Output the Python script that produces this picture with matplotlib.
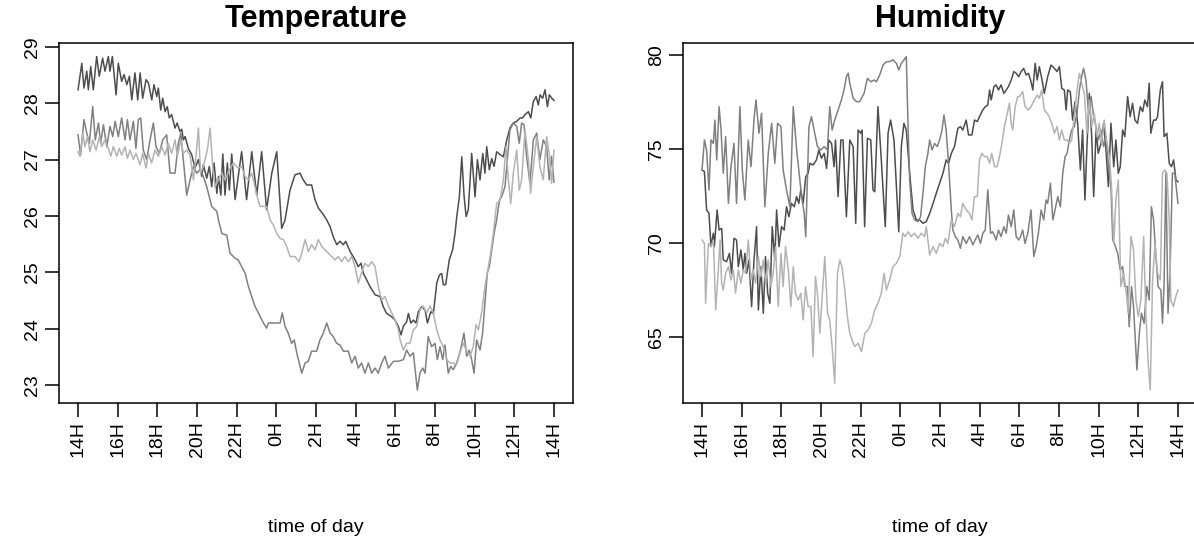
import matplotlib
matplotlib.use("Agg")
import matplotlib.pyplot as plt

# ==========================================================
# DATA (hours after 14H, value)
# ==========================================================
hour_ticks = list(range(0, 25, 2))
hour_labels = ['14H', '16H', '18H', '20H', '22H', '0H', '2H', '4H',
               '6H', '8H', '10H', '12H', '14H']

temp_ticks = [23, 24, 25, 26, 27, 28, 29]
hum_ticks = [65, 70, 75, 80]

temp_dark = [
    (0, 28.24), (0.19, 28.71), (0.30, 28.27), (0.44, 28.57), (0.52, 28.24),
    (0.64, 28.65), (0.77, 28.24), (0.94, 28.83), (1.07, 28.48), (1.24, 28.80),
    (1.36, 28.57), (1.53, 28.83), (1.61, 28.57), (1.73, 28.83), (1.92, 28.15),
    (2.03, 28.71), (2.2, 28.39), (2.32, 28.51), (2.46, 28.33), (2.59, 28.48),
    (2.71, 28.06), (2.87, 28.54), (3.01, 28.06), (3.13, 28.54), (3.26, 28.09),
    (3.43, 28.42), (3.55, 28.36), (3.72, 28.06), (3.83, 28.33), (3.97, 28.12),
    (4.05, 28.27), (4.17, 27.88), (4.27, 28.09), (4.39, 27.85), (4.5, 27.94),
    (4.6, 27.74), (4.72, 27.80), (4.89, 27.56), (5.0, 27.65), (5.14, 27.50),
    (5.23, 27.54), (5.31, 27.35), (5.40, 27.41), (5.56, 27.20), (5.73, 27.09),
    (5.9, 26.85), (6.07, 27.0), (6.24, 26.70), (6.32, 26.91), (6.49, 26.67),
    (6.62, 26.88), (6.74, 26.52), (6.86, 26.94), (7.0, 26.40), (7.08, 26.70),
    (7.2, 26.37), (7.30, 27.1), (7.41, 26.37), (7.53, 26.94), (7.63, 26.46),
    (7.75, 27.1), (7.92, 26.29), (8.25, 27.14), (8.5, 26.29), (8.76, 27.14),
    (9.01, 26.37), (9.26, 27.14), (9.51, 26.11), (9.77, 26.76), (10.02, 27.14),
    (10.27, 25.78), (10.44, 25.93), (10.69, 26.46), (10.94, 26.73), (11.19, 26.76),
    (11.36, 26.64), (11.53, 26.55), (11.78, 26.55), (11.95, 26.29), (12.12, 26.14),
    (12.32, 26.05), (12.54, 25.93), (12.71, 25.81), (12.87, 25.63), (13.05, 25.49),
    (13.21, 25.55), (13.38, 25.49), (13.5, 25.55), (13.72, 25.37), (13.97, 25.22),
    (14.13, 25.10), (14.27, 25.16), (14.39, 24.98), (14.56, 24.86), (14.72, 24.75),
    (14.98, 24.60), (15.23, 24.57), (15.39, 24.39), (15.56, 24.27), (15.82, 24.21),
    (15.99, 24.15), (16.15, 24.04), (16.29, 23.89), (16.4, 24.04), (16.57, 24.12),
    (16.66, 24.27), (16.78, 24.1), (16.91, 24.15), (17.04, 24.10), (17.16, 24.30),
    (17.33, 24.39), (17.5, 24.33), (17.62, 24.10), (17.79, 24.30), (17.92, 24.27),
    (18.09, 24.81), (18.22, 24.95), (18.34, 24.98), (18.42, 24.78), (18.54, 24.78),
    (18.72, 25.22), (18.89, 25.40), (19.01, 25.69), (19.1, 25.99), (19.23, 26.34),
    (19.35, 27.05), (19.47, 26.34), (19.57, 25.99), (19.68, 26.11), (19.85, 27.11),
    (20.02, 26.34), (20.14, 27.0), (20.27, 26.64), (20.41, 27.11), (20.52, 26.76),
    (20.61, 27.23), (20.74, 26.82), (20.86, 27.02), (20.98, 26.88), (21.11, 27.14),
    (21.28, 27.09), (21.45, 27.05), (21.62, 27.35), (21.78, 27.56), (21.95, 27.65),
    (22.12, 27.68), (22.29, 27.74), (22.42, 27.74), (22.54, 27.8), (22.71, 27.85),
    (22.83, 27.74), (22.96, 28.03), (23.1, 28.12), (23.21, 27.97), (23.3, 28.15),
    (23.43, 28.09), (23.55, 28.24), (23.67, 27.94), (23.77, 28.15), (23.89, 28.09),
    (24.0, 28.05),
]

temp_mid = [
    (0, 27.44), (0.13, 27.08), (0.3, 27.71), (0.44, 27.47), (0.57, 27.29),
    (0.74, 27.94), (0.87, 27.35), (1.03, 27.65), (1.14, 27.29), (1.28, 27.62),
    (1.45, 27.23), (1.61, 27.59), (1.75, 27.41), (1.87, 27.68), (2.03, 27.41),
    (2.2, 27.74), (2.37, 27.35), (2.49, 27.71), (2.62, 27.35), (2.79, 27.68),
    (2.92, 27.2), (3.04, 27.71), (3.16, 27.74), (3.29, 27.17), (3.46, 27.0),
    (3.63, 27.35), (3.8, 27.65), (3.93, 27.23), (4.1, 27.11), (4.27, 27.35),
    (4.47, 27.44), (4.64, 26.76), (4.89, 26.76), (5.06, 27.29), (5.18, 27.47),
    (5.31, 27.0), (5.48, 26.37), (5.65, 26.64), (5.82, 26.88), (5.98, 26.76),
    (6.15, 26.82), (6.32, 26.70), (6.49, 26.52), (6.74, 26.17), (7.0, 26.08),
    (7.08, 25.93), (7.25, 25.69), (7.5, 25.66), (7.66, 25.34), (7.92, 25.25),
    (8.08, 25.22), (8.25, 25.1), (8.42, 24.99), (8.59, 24.75), (8.76, 24.57),
    (8.92, 24.4), (9.09, 24.28), (9.18, 24.22), (9.35, 24.1), (9.51, 24.01),
    (9.6, 24.1), (9.93, 24.1), (10.19, 24.1), (10.3, 24.28), (10.44, 24.04),
    (10.6, 23.92), (10.77, 23.74), (10.9, 23.8), (11.03, 23.57), (11.28, 23.21),
    (11.45, 23.39), (11.61, 23.42), (11.78, 23.6), (12.03, 23.6), (12.2, 23.8),
    (12.37, 23.92), (12.54, 24.1), (12.71, 23.92), (12.87, 23.86), (13.04, 23.74),
    (13.21, 23.71), (13.38, 23.6), (13.63, 23.6), (13.8, 23.39), (13.97, 23.51),
    (14.13, 23.3), (14.3, 23.39), (14.47, 23.21), (14.64, 23.39), (14.81, 23.21),
    (14.98, 23.3), (15.14, 23.21), (15.31, 23.39), (15.48, 23.51), (15.65, 23.3),
    (15.9, 23.42), (16.15, 23.42), (16.41, 23.45), (16.57, 23.62), (16.74, 23.51),
    (16.91, 23.57), (17.11, 22.91), (17.24, 23.21), (17.38, 23.3), (17.5, 23.21),
    (17.66, 23.86), (17.83, 23.68), (18.0, 23.74), (18.12, 23.45), (18.25, 23.68),
    (18.39, 23.45), (18.5, 23.71), (18.67, 23.21), (18.79, 23.33), (18.92, 23.27),
    (19.09, 23.39), (19.29, 23.62), (19.46, 23.92), (19.6, 23.51), (19.73, 23.62),
    (19.85, 23.45), (19.97, 23.21), (20.1, 23.8), (20.27, 23.62), (20.4, 23.92),
    (20.52, 24.45), (20.64, 24.99), (20.74, 25.1), (20.86, 25.4), (20.98, 25.69),
    (21.11, 25.93), (21.25, 26.28), (21.36, 26.34), (21.53, 26.52), (21.65, 27.0),
    (21.78, 27.53), (21.95, 27.65), (22.12, 27.59), (22.25, 27.29), (22.37, 27.65),
    (22.49, 27.62), (22.62, 27.06), (22.79, 26.58), (22.96, 27.35), (23.13, 27.47),
    (23.29, 27.0), (23.46, 27.35), (23.63, 27.23), (23.76, 26.64), (23.88, 27.06),
    (24.0, 26.6),
]

temp_light = [
    (0, 27.14), (0.1, 27.06), (0.24, 27.47), (0.35, 27.23), (0.47, 27.41),
    (0.6, 27.14), (0.74, 27.35), (0.91, 27.17), (1.08, 27.41), (1.19, 27.23),
    (1.36, 27.35), (1.53, 27.2), (1.65, 27.06), (1.78, 27.23), (1.95, 27.06),
    (2.08, 27.2), (2.2, 27.08), (2.37, 27.23), (2.49, 27.02), (2.62, 27.17),
    (2.79, 27.0), (2.92, 27.11), (3.13, 26.91), (3.26, 27.11), (3.43, 26.85),
    (3.55, 27.11), (3.71, 26.94), (3.88, 27.17), (4.05, 27.06), (4.22, 27.23),
    (4.39, 27.08), (4.55, 27.29), (4.72, 27.11), (4.89, 27.35), (5.01, 27.06),
    (5.18, 27.35), (5.31, 27.11), (5.48, 27.17), (5.65, 27.08), (5.82, 26.64),
    (5.95, 27.06), (6.07, 27.56), (6.18, 26.76), (6.32, 26.88), (6.52, 27.17),
    (6.66, 27.56), (6.79, 26.88), (6.91, 26.52), (7.08, 26.64), (7.24, 26.76),
    (7.41, 26.64), (7.63, 26.82), (7.83, 26.94), (8.08, 26.85), (8.25, 26.88),
    (8.42, 26.7), (8.59, 26.64), (8.76, 26.76), (8.92, 26.52), (9.01, 26.37),
    (9.18, 26.17), (9.35, 26.17), (9.51, 26.17), (9.68, 25.93), (9.85, 25.84),
    (10.02, 25.69), (10.19, 25.6), (10.35, 25.58), (10.52, 25.46), (10.69, 25.28),
    (10.94, 25.28), (11.14, 25.19), (11.28, 25.34), (11.45, 25.58), (11.61, 25.37),
    (11.78, 25.49), (11.95, 25.4), (12.12, 25.58), (12.29, 25.46), (12.45, 25.4),
    (12.62, 25.34), (12.79, 25.28), (12.96, 25.22), (13.12, 25.28), (13.29, 25.19),
    (13.46, 25.28), (13.63, 25.19), (13.8, 25.28), (13.97, 25.1), (14.13, 24.81),
    (14.3, 24.99), (14.47, 25.16), (14.64, 25.1), (14.81, 25.19), (14.98, 25.1),
    (15.14, 24.75), (15.31, 24.51), (15.48, 24.57), (15.65, 24.4), (15.82, 24.28),
    (15.98, 24.16), (16.15, 23.98), (16.24, 23.8), (16.41, 23.62), (16.57, 23.74),
    (16.74, 23.74), (16.91, 23.98), (17.08, 24.04), (17.24, 24.33), (17.41, 24.4),
    (17.58, 24.28), (17.75, 24.4), (17.92, 24.28), (18.09, 23.98), (18.25, 23.8),
    (18.42, 23.68), (18.59, 23.45), (18.76, 23.39), (18.92, 23.39), (19.09, 23.36),
    (19.26, 23.57), (19.43, 23.74), (19.6, 23.6), (19.77, 23.51), (19.93, 23.68),
    (20.07, 24.07), (20.19, 23.98), (20.35, 24.28), (20.52, 24.75), (20.69, 25.1),
    (20.81, 25.34), (20.94, 25.69), (21.11, 26.22), (21.28, 26.28), (21.45, 26.64),
    (21.58, 27.23), (21.7, 26.64), (21.82, 26.22), (21.95, 26.76), (22.12, 27.17),
    (22.25, 26.46), (22.37, 26.64), (22.54, 27.53), (22.71, 27.0), (22.82, 26.4),
    (22.96, 26.88), (23.13, 27.41), (23.29, 26.88), (23.46, 26.64), (23.63, 27.41),
    (23.76, 27.11), (23.88, 26.58), (24.0, 27.17),
]

hum_dark = [
    (0, 73.89), (0.12, 73.8), (0.23, 71.76), (0.35, 71.58), (0.45, 69.81),
    (0.57, 70.52), (0.62, 69.81), (0.76, 71.76), (0.86, 70.69), (0.99, 70.78),
    (1.07, 69.1), (1.24, 69.01), (1.38, 69.45), (1.49, 68.39), (1.61, 70.25),
    (1.74, 70.16), (1.83, 68.74), (1.96, 69.63), (2.08, 68.57), (2.16, 69.45),
    (2.25, 68.39), (2.37, 69.1), (2.5, 66.62), (2.62, 69.1), (2.75, 70.87),
    (2.84, 66.44), (2.97, 68.74), (3.09, 66.26), (3.2, 69.28), (3.31, 67.33),
    (3.42, 66.79), (3.54, 70.87), (3.67, 69.1), (3.76, 71.76), (3.88, 69.81),
    (4.01, 70.87), (4.14, 70.69), (4.26, 71.93), (4.38, 71.4), (4.51, 72.11),
    (4.65, 71.93), (4.77, 72.47), (4.88, 72.11), (4.98, 72.82), (5.1, 72.11),
    (5.23, 73.53), (5.35, 73.71), (5.44, 74.24), (5.6, 74.15), (5.77, 74.42),
    (5.89, 74.95), (6.02, 74.51), (6.16, 74.77), (6.28, 73.97), (6.39, 75.48),
    (6.53, 75.3), (6.66, 74.06), (6.73, 75.48), (6.86, 72.47), (7.0, 75.48),
    (7.11, 75.48), (7.28, 71.4), (7.45, 75.48), (7.62, 75.13), (7.75, 71.05),
    (7.87, 76.01), (8.0, 75.84), (8.07, 76.01), (8.2, 70.87), (8.34, 75.57),
    (8.51, 75.48), (8.62, 72.82), (8.71, 72.73), (8.87, 77.25), (9.04, 74.42),
    (9.24, 70.87), (9.38, 75.84), (9.51, 76.54), (9.68, 75.48), (9.92, 70.6),
    (10.05, 75.13), (10.18, 76.37), (10.3, 76.01), (10.47, 73.71), (10.64, 71.76),
    (10.81, 71.23), (10.97, 71.23), (11.14, 71.05), (11.31, 71.14), (11.48, 71.58),
    (11.65, 72.11), (11.81, 72.64), (11.98, 73.18), (12.15, 73.71), (12.31, 74.42),
    (12.43, 74.24), (12.57, 74.77), (12.73, 75.13), (12.9, 76.1), (13.03, 76.19),
    (13.15, 76.01), (13.32, 76.54), (13.44, 75.75), (13.61, 75.75), (13.74, 76.54),
    (13.88, 76.46), (13.99, 76.72), (14.16, 77.08), (14.28, 77.25), (14.41, 77.34),
    (14.5, 78.14), (14.58, 77.61), (14.72, 78.32), (14.83, 78.41), (14.95, 78.14),
    (15.08, 78.41), (15.22, 77.96), (15.34, 78.14), (15.45, 78.32), (15.59, 78.67),
    (15.72, 79.12), (15.84, 79.03), (15.97, 78.85), (16.09, 79.12), (16.22, 79.29),
    (16.34, 78.94), (16.46, 79.03), (16.59, 78.58), (16.68, 78.14), (16.8, 79.56),
    (16.9, 78.67), (17.01, 79.38), (17.13, 78.76), (17.26, 77.96), (17.43, 78.85),
    (17.6, 79.47), (17.77, 79.29), (17.9, 79.12), (18.02, 79.38), (18.14, 78.23),
    (18.27, 78.14), (18.36, 77.08), (18.44, 78.14), (18.57, 78.05), (18.69, 76.54),
    (18.81, 77.52), (18.94, 76.37), (19.08, 73.89), (19.19, 76.01), (19.31, 72.29),
    (19.41, 75.13), (19.53, 77.96), (19.65, 75.66), (19.75, 72.47), (19.87, 76.01),
    (19.98, 74.77), (20.12, 75.3), (20.25, 76.37), (20.37, 74.95), (20.49, 73.0),
    (20.62, 76.37), (20.76, 74.06), (20.87, 75.48), (20.99, 73.71), (21.09, 74.06),
    (21.21, 76.01), (21.32, 75.66), (21.46, 77.79), (21.59, 76.72), (21.71, 77.43),
    (21.83, 76.54), (21.96, 76.37), (22.1, 77.25), (22.22, 76.99), (22.33, 77.61),
    (22.46, 77.25), (22.55, 78.5), (22.63, 75.84), (22.77, 76.54), (22.89, 76.54),
    (22.97, 76.72), (23.11, 78.14), (23.22, 78.58), (23.3, 75.66), (23.44, 75.84),
    (23.56, 74.24), (23.67, 74.06), (23.78, 74.42), (23.9, 73.35), (24.0, 73.26),
]

hum_mid = [
    (0, 73.89), (0.12, 75.48), (0.23, 74.95), (0.35, 72.82), (0.45, 75.48),
    (0.57, 75.3), (0.65, 76.54), (0.74, 74.42), (0.86, 77.25), (0.96, 76.01),
    (1.07, 73.71), (1.19, 75.66), (1.33, 72.11), (1.46, 74.06), (1.61, 75.3),
    (1.74, 72.11), (1.91, 77.25), (2.03, 73.89), (2.16, 72.29), (2.33, 75.48),
    (2.47, 74.06), (2.63, 76.72), (2.72, 77.61), (2.87, 75.84), (3.0, 76.9),
    (3.17, 71.93), (3.34, 74.77), (3.51, 76.37), (3.67, 74.24), (3.81, 76.37),
    (3.98, 76.19), (4.09, 73.89), (4.26, 72.82), (4.43, 71.93), (4.6, 77.25),
    (4.77, 74.95), (4.88, 73.89), (5.02, 72.47), (5.15, 71.58), (5.23, 70.34),
    (5.39, 76.19), (5.52, 76.72), (5.65, 76.01), (5.82, 75.13), (5.99, 74.95),
    (6.16, 75.13), (6.32, 74.95), (6.44, 77.25), (6.56, 76.01), (6.69, 76.54),
    (6.86, 77.08), (7.03, 77.61), (7.16, 78.14), (7.28, 78.85), (7.37, 79.03),
    (7.45, 78.5), (7.62, 77.7), (7.79, 77.52), (7.95, 77.52), (8.04, 77.7),
    (8.17, 77.96), (8.34, 78.76), (8.51, 78.58), (8.67, 78.67), (8.79, 78.58),
    (8.96, 78.94), (9.13, 79.47), (9.3, 79.65), (9.46, 79.65), (9.63, 79.74),
    (9.8, 79.56), (9.92, 79.2), (10.05, 79.56), (10.18, 79.74), (10.3, 79.91),
    (10.39, 76.19), (10.47, 73.35), (10.59, 71.58), (10.72, 71.23), (10.89, 71.14),
    (11.02, 71.4), (11.14, 72.64), (11.26, 74.06), (11.39, 74.77), (11.48, 75.48),
    (11.6, 74.95), (11.73, 75.3), (11.86, 75.13), (11.98, 75.48), (12.1, 76.01),
    (12.2, 76.81), (12.31, 76.01), (12.43, 74.24), (12.57, 71.76), (12.65, 70.69),
    (12.77, 70.34), (12.9, 70.16), (13.03, 69.72), (13.15, 70.34), (13.32, 69.98),
    (13.49, 70.34), (13.66, 69.9), (13.77, 70.16), (13.91, 70.43), (14.04, 69.98),
    (14.16, 70.52), (14.28, 70.69), (14.41, 72.82), (14.55, 70.52), (14.66, 70.6),
    (14.83, 70.16), (14.95, 70.69), (15.08, 70.34), (15.22, 70.87), (15.34, 70.52),
    (15.45, 71.49), (15.59, 70.87), (15.72, 71.76), (15.84, 70.34), (15.97, 70.16),
    (16.06, 70.34), (16.17, 70.69), (16.29, 69.98), (16.43, 70.52), (16.59, 71.76),
    (16.73, 69.28), (16.85, 69.81), (16.96, 70.52), (17.1, 71.76), (17.23, 71.23),
    (17.35, 72.29), (17.43, 72.11), (17.57, 73.18), (17.69, 71.23), (17.8, 71.76),
    (17.94, 72.47), (18.07, 71.93), (18.19, 73.71), (18.31, 74.6), (18.41, 74.77),
    (18.52, 75.48), (18.64, 76.01), (18.77, 76.19), (18.91, 76.9), (19.03, 78.14),
    (19.14, 78.85), (19.24, 79.29), (19.36, 78.67), (19.48, 77.08), (19.62, 77.79),
    (19.75, 76.72), (19.87, 76.19), (19.99, 75.48), (20.12, 76.01), (20.25, 75.13),
    (20.37, 75.66), (20.49, 74.06), (20.62, 73.0), (20.71, 70.16), (20.79, 69.98),
    (20.96, 69.45), (21.09, 68.57), (21.21, 68.74), (21.32, 67.68), (21.46, 67.68),
    (21.54, 65.55), (21.66, 67.68), (21.76, 66.62), (21.93, 63.25), (22.05, 65.2),
    (22.16, 66.26), (22.29, 65.73), (22.43, 67.68), (22.55, 66.97), (22.66, 71.93),
    (22.77, 71.23), (22.89, 69.28), (23.0, 67.68), (23.14, 67.5), (23.22, 65.73),
    (23.3, 67.86), (23.39, 73.71), (23.5, 66.26), (23.6, 68.39), (23.72, 73.71),
    (23.84, 73.71), (24.0, 72.11),
]

hum_light = [
    (0, 70.16), (0.12, 69.98), (0.18, 66.79), (0.32, 69.98), (0.45, 69.81),
    (0.57, 70.16), (0.69, 66.44), (0.79, 68.03), (0.91, 70.16), (0.99, 67.86),
    (1.07, 67.5), (1.19, 68.39), (1.33, 68.74), (1.46, 68.03), (1.58, 68.57),
    (1.69, 67.33), (1.83, 68.57), (1.96, 67.86), (2.08, 68.57), (2.2, 68.39),
    (2.33, 70.16), (2.47, 68.03), (2.58, 68.57), (2.7, 67.86), (2.84, 69.28),
    (2.97, 68.21), (3.09, 69.1), (3.2, 67.86), (3.34, 69.1), (3.47, 67.68),
    (3.59, 68.39), (3.71, 69.81), (3.84, 66.62), (3.98, 69.45), (4.09, 67.68),
    (4.21, 69.81), (4.35, 68.57), (4.48, 66.62), (4.6, 68.74), (4.71, 67.33),
    (4.85, 66.97), (4.98, 67.33), (5.1, 65.91), (5.22, 67.68), (5.35, 66.62),
    (5.49, 66.62), (5.6, 63.96), (5.72, 68.21), (5.82, 67.33), (5.94, 65.2),
    (6.06, 67.15), (6.19, 69.28), (6.33, 66.26), (6.44, 65.91), (6.56, 64.49),
    (6.69, 62.54), (6.83, 68.39), (6.95, 69.1), (7.06, 68.74), (7.2, 67.5),
    (7.33, 66.08), (7.45, 65.2), (7.57, 64.84), (7.7, 64.49), (7.87, 64.67),
    (8.04, 64.22), (8.21, 65.2), (8.37, 65.37), (8.54, 65.73), (8.71, 66.44),
    (8.87, 66.79), (9.04, 67.33), (9.18, 68.39), (9.3, 67.5), (9.46, 68.03),
    (9.63, 68.74), (9.8, 68.92), (9.97, 69.28), (10.13, 70.52), (10.25, 70.34),
    (10.39, 70.6), (10.55, 70.34), (10.72, 70.52), (10.89, 70.25), (11.05, 70.52),
    (11.22, 70.34), (11.31, 70.87), (11.48, 69.36), (11.65, 69.81), (11.81, 69.45),
    (11.98, 69.98), (12.15, 69.81), (12.27, 70.25), (12.4, 69.98), (12.57, 71.23),
    (12.73, 70.87), (12.9, 71.58), (13.03, 71.4), (13.15, 72.11), (13.32, 71.76),
    (13.49, 71.58), (13.61, 71.23), (13.74, 72.47), (13.88, 72.47), (13.99, 74.42),
    (14.11, 74.77), (14.24, 74.6), (14.38, 74.6), (14.5, 74.24), (14.61, 74.77),
    (14.75, 74.06), (14.88, 74.06), (15.0, 74.6), (15.12, 75.3), (15.25, 76.19),
    (15.39, 76.9), (15.5, 77.43), (15.59, 76.37), (15.67, 76.01), (15.79, 77.25),
    (15.92, 77.79), (16.0, 77.79), (16.17, 78.05), (16.29, 77.25), (16.46, 77.08),
    (16.59, 77.25), (16.76, 77.61), (16.9, 77.87), (17.01, 77.7), (17.13, 78.14),
    (17.26, 77.08), (17.4, 76.9), (17.51, 76.72), (17.63, 76.37), (17.77, 75.84),
    (17.9, 76.19), (18.02, 75.48), (18.14, 76.01), (18.27, 75.48), (18.41, 75.48),
    (18.52, 75.3), (18.64, 75.48), (18.77, 76.72), (18.91, 78.14), (19.03, 79.03),
    (19.14, 78.5), (19.28, 77.96), (19.41, 75.84), (19.53, 77.61), (19.65, 76.19),
    (19.78, 76.9), (19.92, 75.66), (20.03, 76.37), (20.15, 75.3), (20.28, 76.54),
    (20.42, 75.3), (20.54, 74.6), (20.65, 73.0), (20.76, 69.98), (20.87, 72.29),
    (20.99, 73.35), (21.12, 67.68), (21.26, 68.39), (21.38, 67.5), (21.49, 66.26),
    (21.63, 70.34), (21.76, 69.63), (21.88, 66.97), (22.0, 66.08), (22.13, 66.97),
    (22.27, 70.34), (22.38, 66.26), (22.5, 63.6), (22.6, 62.18), (22.72, 68.03),
    (22.84, 69.98), (22.97, 68.39), (23.11, 68.03), (23.22, 73.71), (23.34, 73.89),
    (23.44, 73.71), (23.56, 71.23), (23.64, 66.97), (23.77, 66.62), (23.89, 67.15),
    (24.0, 67.5),
]

# ==========================================================
# ESTILO
# ==========================================================
plt.rcParams['font.family'] = ['Liberation Sans', 'DejaVu Sans']

c_dark = '#4d4d4d'
c_mid = '#808080'
c_light = '#b3b3b3'
lw = 1.1


def draw_panel(ax, series, title, yticks, ylim):
    for data, color in series:
        h = [p[0] for p in data]
        v = [p[1] for p in data]
        ax.plot(h, v, color=color, lw=lw)

    ax.set_xlim(-0.96, 24.96)
    ax.set_ylim(*ylim)
    ax.set_xticks(hour_ticks)
    ax.set_xticklabels(hour_labels, rotation=90)
    ax.set_yticks(yticks)
    ax.set_yticklabels([str(t) for t in yticks], rotation=90, va='center')
    ax.tick_params(direction='out', length=10, width=1.1, labelsize=14,
                   pad=3, color='black')
    for s in ax.spines.values():
        s.set_linewidth(1.1)
    ax.set_title(title, fontsize=22, fontweight='bold', pad=11.5)
    ax.set_xlabel('time of day', fontsize=14)
    ax.xaxis.set_label_coords(0.5, -0.322)


# ==========================================================
# FIGURA
# ==========================================================
W, H = 1194, 548
fig = plt.figure(figsize=(W / 100, H / 100), dpi=100)

ax1 = fig.add_axes([59 / W, 145 / H, 514 / W, 360 / H])
ax2 = fig.add_axes([683 / W, 145 / H, 514 / W, 360 / H])

draw_panel(ax1, [(temp_dark, c_dark), (temp_mid, c_mid), (temp_light, c_light)],
           'Temperature', temp_ticks, (22.68, 29.07))
draw_panel(ax2, [(hum_dark, c_dark), (hum_mid, c_mid), (hum_light, c_light)],
           'Humidity', hum_ticks, (61.49, 80.64))

fig.savefig('out.png', dpi=100)
